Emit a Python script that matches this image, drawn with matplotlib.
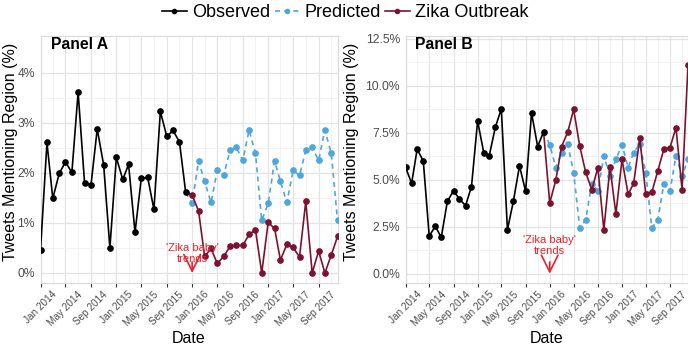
import pandas as pd
import numpy as np
import matplotlib
matplotlib.use("Agg")
import matplotlib.pyplot as plt
from matplotlib.lines import Line2D
from matplotlib.ticker import FuncFormatter

plt.rcParams["font.family"] = ["Liberation Sans", "DejaVu Sans"]

# monthly series, Jan 2014 - Dec 2017
months = pd.date_range("2014-01-01", "2017-12-01", freq="MS")

# Panel A (first 24 months observed, last 24 months predicted / outbreak)
obs_a = [0.46, 2.61, 1.49, 1.99, 2.22, 2.01, 3.62, 1.80, 1.76, 2.88, 2.16, 0.50,
         2.31, 1.87, 2.17, 0.81, 1.89, 1.91, 1.27, 3.23, 2.73, 2.85, 2.62, 1.61]
pred_a = [1.39, 2.24, 1.83, 1.41, 2.05, 1.95, 2.45, 2.51, 2.25, 2.86, 2.39, 1.05,
          1.39, 2.24, 1.83, 1.41, 2.05, 1.95, 2.45, 2.51, 2.25, 2.86, 2.39, 1.05]
zika_a = [1.56, 1.24, 0.33, 0.49, 0.19, 0.33, 0.53, 0.55, 0.55, 0.77, 0.86, 0.00,
          1.01, 0.89, 0.26, 0.57, 0.51, 0.32, 1.43, 0.00, 0.44, 0.00, 0.36, 0.73]

# Panel B
obs_b = [5.66, 4.81, 6.62, 5.99, 2.00, 2.52, 1.93, 3.85, 4.41, 3.97, 3.62, 4.63,
         8.12, 6.44, 6.28, 7.80, 8.76, 2.34, 3.85, 5.73, 4.38, 8.55, 6.76, 7.55]
pred_b = [6.86, 5.64, 6.44, 6.90, 5.37, 2.43, 2.87, 4.79, 4.40, 6.26, 5.20, 6.08,
          6.86, 5.64, 6.44, 6.90, 5.37, 2.43, 2.87, 4.79, 4.40, 6.26, 5.20, 6.08]
zika_b = [3.76, 4.98, 6.76, 7.52, 8.74, 6.79, 5.39, 4.47, 5.64, 2.32, 5.67, 3.18,
          6.08, 4.22, 4.81, 7.20, 4.24, 4.33, 5.46, 6.63, 6.70, 7.77, 4.47, 11.10]

col_obs = "black"
col_pred = "#4EA6DC"
col_zika = "#7B1230"
col_note = "#E8202A"

major_x = pd.date_range("2014-01-01", "2017-09-01", freq="4MS")
minor_x = pd.date_range("2014-03-01", "2017-11-01", freq="4MS")


def draw_panel(ax, obs, pred, zika, ylim, yticks, fmt, label, note_y, arrow_y):
    n_obs = len(obs)
    x_obs = months[:n_obs]
    # predicted / outbreak lines start from the last observed month
    x_fut = months[n_obs - 1:]
    ax.plot(x_fut, [obs[-1]] + pred, color=col_pred, linestyle=(0, (3, 2.5)), linewidth=1.2,
            marker="o", markersize=3.8, markevery=list(range(1, len(x_fut))), zorder=3)
    ax.plot(x_fut, [obs[-1]] + zika, color=col_zika, linewidth=1.2,
            marker="o", markersize=3.8, markevery=list(range(1, len(x_fut))), zorder=3)
    ax.plot(x_obs, obs, color=col_obs, linewidth=1.2, marker="o", markersize=3.8, zorder=4)

    ax.set_xlim(months[0], months[-1])
    ax.set_ylim(*ylim)
    ax.set_yticks(yticks)
    ax.set_yticks(np.array(yticks[:-1]) + (yticks[1] - yticks[0]) / 2, minor=True)
    ax.yaxis.set_major_formatter(FuncFormatter(fmt))
    ax.set_xticks(major_x)
    ax.set_xticks(minor_x, minor=True)
    ax.set_xticklabels([d.strftime("%b %Y") for d in major_x], rotation=45, ha="center",
                       fontsize=7.2, color="#4D4D4D")

    ax.tick_params(axis="y", length=0, pad=4, labelsize=8.7, labelcolor="#4D4D4D")
    ax.tick_params(axis="y", which="minor", length=0)
    ax.tick_params(axis="x", length=3, width=0.8, color="#333333", pad=1.5)
    ax.tick_params(axis="x", which="minor", length=0)

    ax.grid(which="major", color="#E3E3E3", linewidth=0.9)
    ax.grid(which="minor", color="#F0F0F0", linewidth=0.6)
    ax.set_axisbelow(True)
    for s in ax.spines.values():
        s.set_color("#DADADA")
        s.set_linewidth(0.8)

    ax.set_ylabel("Tweets Mentioning Region (%)", fontsize=11.5)
    ax.set_xlabel("Date", fontsize=11.5)
    ax.xaxis.set_label_coords(0.5, -0.195)

    ax.text(0.035, 0.964, label, transform=ax.transAxes, fontsize=11.3,
            fontweight="bold", va="center", ha="left")

    # 'Zika baby' trends marker at Jan 2016
    jan16 = months[n_obs]
    ax.text(jan16, note_y, "'Zika baby'\ntrends", color=col_note, fontsize=8,
            ha="center", va="center", linespacing=1.15, zorder=5)
    ax.annotate("", xy=(jan16, 0), xytext=(jan16, arrow_y),
                arrowprops=dict(arrowstyle="->,head_length=0.8,head_width=0.4",
                                color=col_note, lw=1.2, shrinkA=0, shrinkB=0,
                                mutation_scale=15), zorder=5)


fig = plt.figure(figsize=(6.88, 3.46), dpi=100)
ax_a = fig.add_axes([0.0589, 0.1821, 0.4317, 0.7139])
ax_b = fig.add_axes([0.5894, 0.1821, 0.4106, 0.7139])

draw_panel(ax_a, obs_a, pred_a, zika_a, (-0.2, 4.74), [0, 1, 2, 3, 4],
           lambda v, p: "%d%%" % v, "Panel A", 0.39, 0.22)
draw_panel(ax_b, obs_b, pred_b, zika_b, (-0.495, 12.64), [0, 2.5, 5, 7.5, 10, 12.5],
           lambda v, p: "%.1f%%" % v, "Panel B", 1.49, 0.62)

ax_a.yaxis.set_label_coords(-0.076, 0.53)
ax_b.yaxis.set_label_coords(-0.166, 0.53)

handles = [
    Line2D([], [], color=col_obs, linewidth=1.2, marker="o", markersize=3),
    Line2D([], [], color=col_pred, linewidth=1.2, linestyle=(0, (3, 2.5)), marker="o", markersize=3),
    Line2D([], [], color=col_zika, linewidth=1.2, marker="o", markersize=3),
]
fig.legend(handles, ["Observed", "Predicted", "Zika Outbreak"], loc="upper center",
           bbox_to_anchor=(0.502, 1.035), ncol=3, frameon=False, fontsize=13,
           handlelength=1.35, handletextpad=0.3, columnspacing=0.25)

plt.savefig("out.png", dpi=100)
